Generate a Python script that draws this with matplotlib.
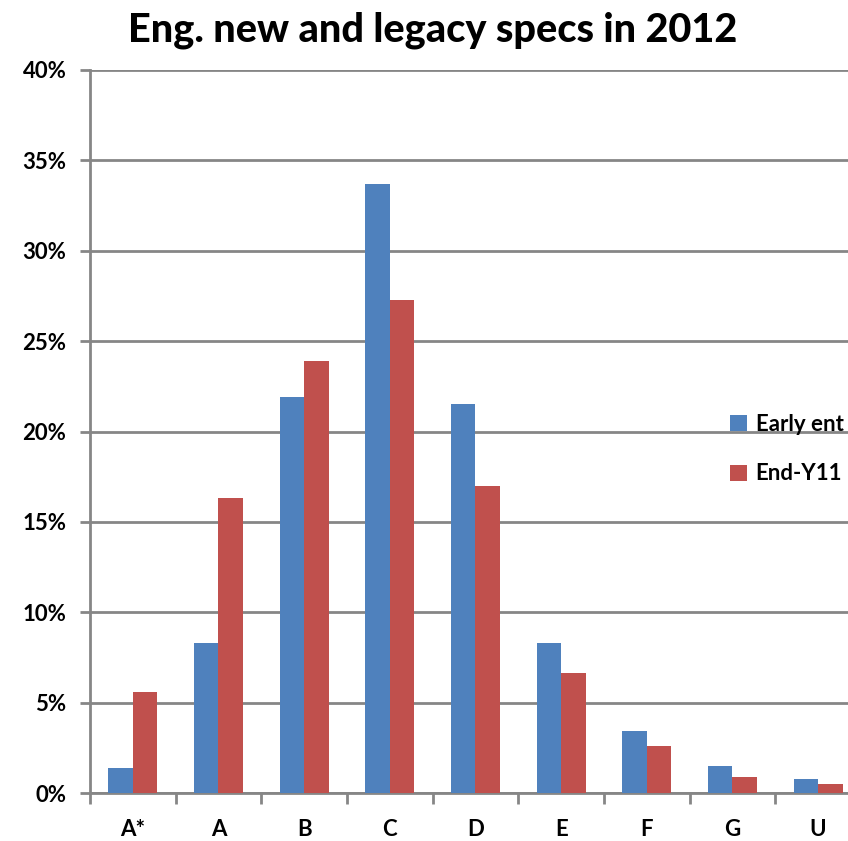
import numpy as np
import matplotlib.pyplot as plt

grades = ['A*', 'A', 'B', 'C', 'D', 'E', 'F', 'G', 'U']
early_ent = [1.4, 8.3, 21.9, 33.7, 21.5, 8.3, 3.45, 1.5, 0.75]
end_y11 = [5.6, 16.3, 23.9, 27.3, 17.0, 6.65, 2.6, 0.9, 0.5]
series_names = ['Early ent', 'End-Y11']
yticks = [0, 5, 10, 15, 20, 25, 30, 35, 40]

blue = '#4F81BD'
red = '#C0504D'
grey = '#868686'
font = 'Lato'

fig = plt.figure(figsize=(8.48, 8.41), dpi=100)
# axis runs past the right edge of the picture, as in the original crop
ax = fig.add_axes([90/848, 48/841, 771/848, 723/841])

x = np.arange(len(grades))
w = 0.286
ax.bar(x - w/2, early_ent, w, color=blue, label=series_names[0], zorder=3)
ax.bar(x + w/2, end_y11, w, color=red, label=series_names[1], zorder=3)

ax.set_xlim(-0.5, len(grades) - 0.5)
ax.set_ylim(0, 40)
ax.set_yticks(yticks)
ax.set_yticklabels(['%d%%' % t for t in yticks], fontsize=16, fontweight='bold', family=font)
ax.yaxis.grid(True, color=grey, lw=2)
ax.set_axisbelow(True)
ax.tick_params(axis='y', length=7, width=2, color=grey, pad=10)

# boundary ticks without labels, labels at category centres
ax.set_xticks(np.arange(-0.5, len(grades), 1))
ax.set_xticklabels([])
ax.tick_params(axis='x', which='major', length=8, width=2, color=grey)
ax.set_xticks(x, minor=True)
ax.set_xticklabels(grades, minor=True, fontsize=16, fontweight='bold', family=font)
ax.tick_params(axis='x', which='minor', length=0, pad=19)

for s in ['top', 'right']:
    ax.spines[s].set_visible(False)
for s in ['left', 'bottom']:
    ax.spines[s].set_color(grey)
    ax.spines[s].set_linewidth(2)

fig.text(433/848, 1 - 30/841, 'Eng. new and legacy specs in 2012', ha='center', va='center',
         fontsize=28.5, fontweight='black', family=font)

fig.legend(loc='center left', bbox_to_anchor=(710/848, 1 - 449/841), frameon=False,
           handlelength=0.75, handleheight=0.75, handletextpad=0.4, labelspacing=1.3,
           prop={'family': font, 'weight': 'bold', 'size': 16})

fig.savefig('out.png', dpi=100)
